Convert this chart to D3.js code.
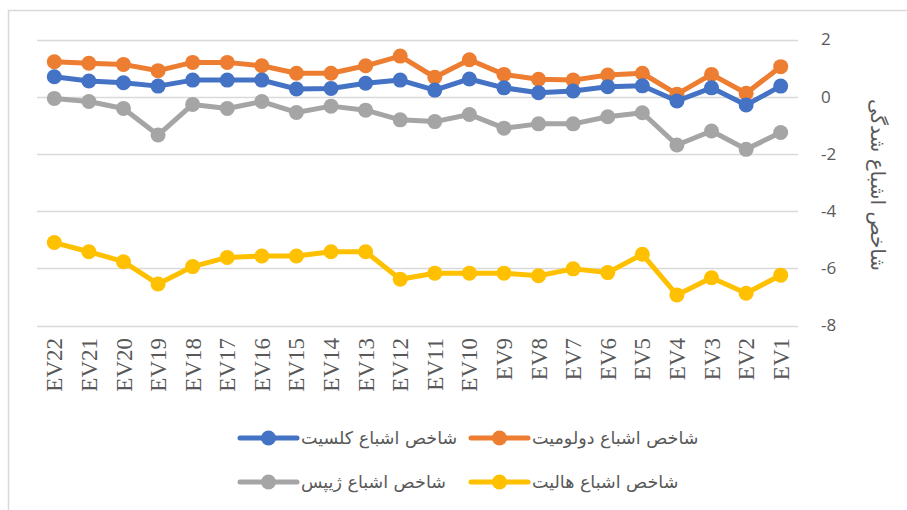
<!DOCTYPE html>
<html>
<head>
<meta charset="utf-8">
<script src="https://cdn.jsdelivr.net/npm/d3@7"></script>
<style>
  html, body { margin: 0; padding: 0; background: #fff; }
  svg { display: block; }
</style>
</head>
<body>
<svg id="chart"></svg>
<script>
const W = 907, H = 510;

const CATEGORIES = ["EV22", "EV21", "EV20", "EV19", "EV18", "EV17", "EV16", "EV15", "EV14", "EV13", "EV12",
                    "EV11", "EV10", "EV9", "EV8", "EV7", "EV6", "EV5", "EV4", "EV3", "EV2", "EV1"];

const CALCITE  = [0.70, 0.55, 0.49, 0.37, 0.58, 0.58, 0.58, 0.27, 0.29, 0.47, 0.58,
                  0.23, 0.62, 0.31, 0.14, 0.20, 0.35, 0.38, -0.15, 0.31, -0.29, 0.37];
const DOLOMITE = [1.22, 1.17, 1.13, 0.91, 1.20, 1.20, 1.08, 0.82, 0.82, 1.08, 1.42,
                  0.68, 1.29, 0.78, 0.61, 0.58, 0.76, 0.82, 0.09, 0.78, 0.12, 1.05];
const GYPSUM   = [-0.06, -0.17, -0.41, -1.34, -0.27, -0.41, -0.17, -0.55, -0.33, -0.47, -0.81,
                  -0.87, -0.62, -1.10, -0.95, -0.95, -0.70, -0.56, -1.69, -1.20, -1.84, -1.25];
const HALITE   = [-5.10, -5.42, -5.77, -6.55, -5.94, -5.62, -5.57, -5.57, -5.42, -5.42, -6.38,
                  -6.17, -6.17, -6.17, -6.26, -6.02, -6.15, -5.51, -6.93, -6.33, -6.87, -6.24];

const Y_TICKS = [2, 0, -2, -4, -6, -8];
const Y_TITLE = "شاخص اشباع شدگی";

const SERIES = [
  { name: "شاخص اشباع کلسیت",   values: CALCITE,  color: "#4472C4" },
  { name: "شاخص اشباع دولومیت", values: DOLOMITE, color: "#ED7D31" },
  { name: "شاخص اشباع ژیپس",    values: GYPSUM,   color: "#A5A5A5" },
  { name: "شاخص اشباع هالیت",   values: HALITE,   color: "#FFC000" }
];

const svg = d3.select("#chart").attr("width", W).attr("height", H);

// outer chart border (runs off the bottom/right edge of the crop)
svg.append("rect")
  .attr("x", 8.5).attr("y", 10.5)
  .attr("width", 920).attr("height", 520)
  .attr("fill", "#fff")
  .attr("stroke", "#D9D9D9")
  .attr("stroke-width", 1.5);

const x = d3.scaleBand().domain(CATEGORIES).range([37, 798]);
const y = d3.scaleLinear().domain([-8, 2]).range([325.5, 39.5]);

// gridlines
svg.append("g")
  .selectAll("line")
  .data(Y_TICKS)
  .join("line")
  .attr("x1", 37).attr("x2", 798)
  .attr("y1", d => Math.round(y(d)) + 0.5)
  .attr("y2", d => Math.round(y(d)) + 0.5)
  .attr("stroke", "#D9D9D9")
  .attr("stroke-width", 1.3);

// right y axis labels
svg.append("g")
  .attr("transform", "translate(821,0)")
  .call(d3.axisRight(y).tickValues(Y_TICKS).tickSize(0).tickPadding(0))
  .call(g => g.select(".domain").remove())
  .call(g => g.selectAll("text")
    .attr("fill", "#595959")
    .attr("font-family", "'Open Sans', 'DejaVu Sans', sans-serif")
    .attr("font-size", 17)
    .attr("text-anchor", "start")
    .text(d => d < 0 ? "-" + Math.abs(d) : d));

// y axis title
svg.append("text")
  .attr("transform", "translate(871,185) rotate(90)")
  .attr("text-anchor", "middle")
  .attr("font-family", "'DejaVu Sans', sans-serif")
  .attr("font-size", 20)
  .attr("fill", "#595959")
  .text(Y_TITLE);

// x axis labels, rotated
svg.append("g")
  .attr("transform", "translate(0,338)")
  .call(d3.axisBottom(x).tickSize(0).tickPadding(0))
  .call(g => g.select(".domain").remove())
  .call(g => g.selectAll(".tick text")
    .attr("transform", "rotate(-90)")
    .attr("x", 0)
    .attr("y", 0)
    .attr("dy", "0.35em")
    .attr("text-anchor", "end")
    .attr("fill", "#595959")
    .attr("font-family", "'Liberation Serif', 'Times New Roman', serif")
    .attr("font-size", 23));

const cx = d => x(d) + x.bandwidth() / 2;
const line = d3.line().x((d, i) => cx(CATEGORIES[i])).y(d => y(d));

const plot = svg.append("g");
// reverse order so blue sits over orange like the reference
[SERIES[3], SERIES[2], SERIES[1], SERIES[0]].forEach(s => {
  const g = plot.append("g");
  g.append("path")
    .datum(s.values)
    .attr("fill", "none")
    .attr("stroke", s.color)
    .attr("stroke-width", 5)
    .attr("stroke-linejoin", "round")
    .attr("d", line);
  g.selectAll("circle")
    .data(s.values)
    .join("circle")
    .attr("cx", (d, i) => cx(CATEGORIES[i]))
    .attr("cy", d => y(d))
    .attr("r", 7.5)
    .attr("fill", s.color);
});

// legend
const LEGEND_POS = [
  { sx: 240, sy: 438 },
  { sx: 471, sy: 438 },
  { sx: 240, sy: 482 },
  { sx: 471, sy: 482 }
];
const legend = svg.append("g");
SERIES.forEach((s, i) => {
  const p = LEGEND_POS[i];
  const g = legend.append("g").attr("transform", `translate(${p.sx},${p.sy})`);
  g.append("line")
    .attr("x1", 0).attr("x2", 57)
    .attr("y1", 0).attr("y2", 0)
    .attr("stroke", s.color)
    .attr("stroke-width", 5)
    .attr("stroke-linecap", "round");
  g.append("circle").attr("cx", 28.5).attr("cy", 0).attr("r", 7.5).attr("fill", s.color);
  g.append("text")
    .attr("x", 61)
    .attr("y", 0)
    .attr("dy", "0.35em")
    .attr("text-anchor", "start")
    .attr("font-family", "'DejaVu Sans', sans-serif")
    .attr("font-size", 17.5)
    .attr("fill", "#595959")
    .text(s.name);
});
</script>
</body>
</html>
